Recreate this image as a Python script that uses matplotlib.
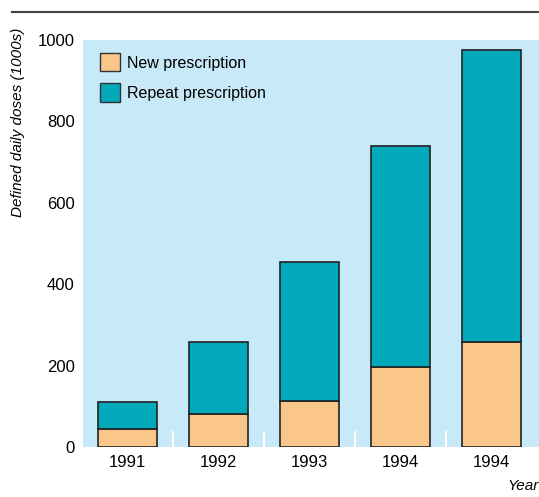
import matplotlib
matplotlib.use("Agg")
import matplotlib.pyplot as plt
from matplotlib.patches import Patch
from matplotlib.lines import Line2D

years = ["1991", "1992", "1993", "1994", "1994"]
new_rx = [44, 81, 113, 197, 258]
repeat_rx = [66, 177, 342, 543, 717]
yticks = [0, 200, 400, 600, 800, 1000]

plt.rcParams['font.family'] = ['Liberation Sans', 'DejaVu Sans']

c_new = "#fbc68a"
c_rep = "#02a9ba"
c_bg = "#c8e9f8"

fig = plt.figure(figsize=(5.39, 4.97), dpi=100)
ax = fig.add_axes([83/539, 1 - 447/497, 1 - 83/539, (447 - 40)/497])
ax.set_facecolor(c_bg)

x = list(range(len(years)))
ax.bar(x, new_rx, width=0.65, color=c_new, edgecolor="#222222", linewidth=1.2, zorder=3)
ax.bar(x, repeat_rx, bottom=new_rx, width=0.65, color=c_rep, edgecolor="#222222", linewidth=1.2, zorder=3)

# white separator ticks between bars
for xm in [0.5, 1.5, 2.5, 3.5]:
    ax.plot([xm, xm], [0, 37], color="white", linewidth=1.5, zorder=2)

ax.set_xlim(-0.49, 4.52)
ax.set_ylim(0, 1000)
ax.set_yticks(yticks)
ax.set_yticklabels([str(v) for v in yticks], fontsize=12)
ax.set_xticks(x)
ax.set_xticklabels(years, fontsize=12)
ax.tick_params(length=0, pad=6)
for s in ax.spines.values():
    s.set_visible(False)

fig.text(18/539, 1 - 122/497, "Defined daily doses (1000s)", fontsize=11, style="italic",
         rotation=90, ha="center", va="center")

handles = [Patch(facecolor=c_new, edgecolor="#333333", linewidth=1.0),
           Patch(facecolor=c_rep, edgecolor="#333333", linewidth=1.0)]
ax.legend(handles, ["New prescription", "Repeat prescription"], loc="upper left",
          bbox_to_anchor=(17/456, 1 - 13/407), frameon=False, fontsize=11.5, borderpad=0,
          borderaxespad=0,
          handlelength=1.25, handleheight=1.4, labelspacing=0.75, handletextpad=0.45)

fig.text(1.0, 1 - 493/497, "Year", fontsize=11, style="italic", ha="right", va="bottom")
fig.add_artist(Line2D([12/539, 1.0], [1 - 12/497, 1 - 12/497], color="#444444", linewidth=1.5))

fig.savefig("out.png", dpi=100)
